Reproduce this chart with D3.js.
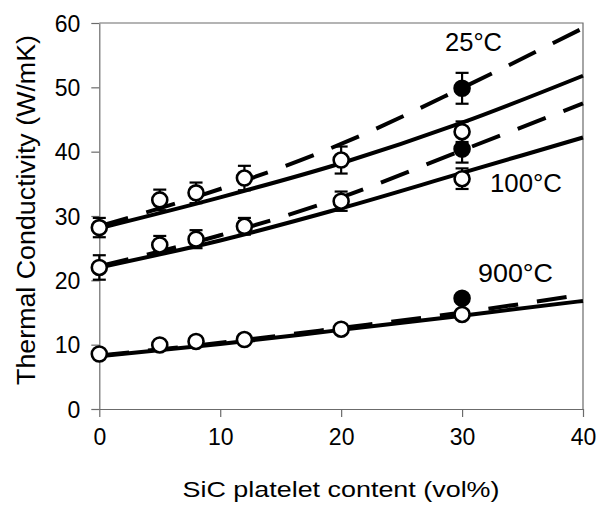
<!DOCTYPE html>
<html><head><meta charset="utf-8">
<script src="https://cdn.jsdelivr.net/npm/d3@7"></script>
<style>body{margin:0;background:#fff}svg{display:block}text{font-family:Arial,"Liberation Sans",sans-serif;fill:#000}</style>
</head><body><svg id="c" width="600" height="506"></svg>
<script>
// ---- data ----
const xTicks = [0, 10, 20, 30, 40];
const yTicks = [0, 10, 20, 30, 40, 50, 60];
const content = [0, 5, 8, 12, 20, 30];
const k25 = [28.2, 32.5, 33.6, 35.9, 38.7, 43.1];
const k25Err = [1.5, 1.6, 1.6, 1.9, 2.1, 1.6];
const k100 = [22.0, 25.5, 26.4, 28.4, 32.3, 35.8];
const k100Err = [1.9, 1.4, 1.4, 1.3, 1.5, 1.6];
const k900 = [8.55, 9.95, 10.5, 10.8, 12.4, 14.7];
const k900Err = [0.5, 0.5, 0.5, 0.5, 0.5, 0.5];
const filledX = [30, 30, 30];
const filledK = [49.85, 40.4, 17.2];
const filledErr = [2.4, 2.1, 0.5];
const modelX = [0, 10, 20, 30, 40];
const solid25 = [28.1, 32.9, 38.2, 44.5, 51.8];
const dashed25 = [28.4, 34.2, 41.2, 49.9, 59.2];
const solid100 = [22.0, 26.2, 31.2, 36.7, 42.2];
const dashed100 = [22.2, 27.0, 32.9, 40.2, 47.5];
const solid900 = [8.2, 10.1, 12.3, 14.5, 16.8];
const dashed900 = [8.3, 10.3, 12.6, 15.0, 17.8];
const tempLabels = ["25°C", "100°C", "900°C"];

const svg = d3.select("#c");
const x = d3.scaleLinear().domain([0, 40]).range([99.3, 583]);
const y = d3.scaleLinear().domain([0, 60]).range([409, 23]);
const axisCol = "#6b6b6b";

// frame (top and right)
svg.append("path").attr("d", `M${x(0)},${y(60)}H${x(40)}V${y(0)}`)
  .attr("fill", "none").attr("stroke", axisCol).attr("stroke-width", 1.2);

// axes
const gx = svg.append("g").attr("transform", `translate(0,${y(0)})`)
  .call(d3.axisBottom(x).tickValues(xTicks).tickSize(8).tickSizeOuter(0).tickFormat(d3.format("d")));
const gy = svg.append("g").attr("transform", `translate(${x(0)},0)`)
  .call(d3.axisLeft(y).tickValues(yTicks).tickSize(8).tickSizeOuter(0).tickFormat(d3.format("d")));
[gx, gy].forEach(g => {
  g.select(".domain").attr("stroke", axisCol).attr("stroke-width", 1.2);
  g.selectAll(".tick line").attr("stroke", axisCol).attr("stroke-width", 1.2);
  g.selectAll(".tick text").attr("font-family", null).attr("font-size", null);
});
gx.selectAll(".tick text").attr("y", 0).attr("dy", 0).attr("transform", "translate(0,36)")
  .style("font-size", "23px");
gy.selectAll(".tick text").attr("x", 0).attr("dy", 0).attr("transform", "translate(-19,8)")
  .style("font-size", "23px");

// axis titles
svg.append("text").attr("x", 341).attr("y", 497).attr("text-anchor", "middle")
  .style("font-size", "22px").attr("textLength", 317).attr("lengthAdjust", "spacingAndGlyphs")
  .text("SiC platelet content (vol%)");
svg.append("text").attr("transform", "translate(35,210) rotate(-90)").attr("text-anchor", "middle")
  .style("font-size", "25px").attr("textLength", 350).attr("lengthAdjust", "spacingAndGlyphs")
  .text("Thermal Conductivity (W/mK)");

// model curves
const line = d3.line().x((d, i) => x(modelX[i])).y(d => y(d)).curve(d3.curveMonotoneX);
[[solid25, false], [dashed25, true], [solid100, false], [dashed100, true], [solid900, false], [dashed900, true]]
  .forEach(([vals, dashed]) => {
    svg.append("path").attr("d", line(vals)).attr("fill", "none").attr("stroke", "#000")
      .attr("stroke-width", 4).attr("stroke-dasharray", dashed ? "30,19" : null);
  });

// error bars
function errBars(xs, ys, es) {
  xs.forEach((xv, i) => {
    const g = svg.append("g").attr("stroke", "#000").attr("stroke-width", 2.2);
    g.append("line").attr("x1", x(xv)).attr("x2", x(xv)).attr("y1", y(ys[i] - es[i])).attr("y2", y(ys[i] + es[i]));
    [ys[i] - es[i], ys[i] + es[i]].forEach(v => g.append("line")
      .attr("x1", x(xv) - 6.5).attr("x2", x(xv) + 6.5).attr("y1", y(v)).attr("y2", y(v)));
  });
}
errBars(content, k25, k25Err);
errBars(content, k100, k100Err);
errBars(content, k900, k900Err);
errBars(filledX, filledK, filledErr);

// points
[k25, k100, k900].forEach(vals => {
  svg.append("g").selectAll("circle").data(vals).join("circle")
    .attr("cx", (d, i) => x(content[i])).attr("cy", d => y(d)).attr("r", 7.5)
    .attr("fill", "#fff").attr("stroke", "#000").attr("stroke-width", 2.6);
});
svg.append("g").selectAll("circle").data(filledK).join("circle")
  .attr("cx", (d, i) => x(filledX[i])).attr("cy", d => y(d)).attr("r", 7.5)
  .attr("fill", "#000").attr("stroke", "#000").attr("stroke-width", 2.6);

// temperature labels
const labPos = [[445, 51, 57], [490, 192, 72], [478, 282, 75]];
tempLabels.forEach((t, i) => {
  svg.append("text").attr("x", labPos[i][0]).attr("y", labPos[i][1])
    .style("font-size", "25px").attr("textLength", labPos[i][2]).attr("lengthAdjust", "spacingAndGlyphs").text(t);
});
</script></body></html>
